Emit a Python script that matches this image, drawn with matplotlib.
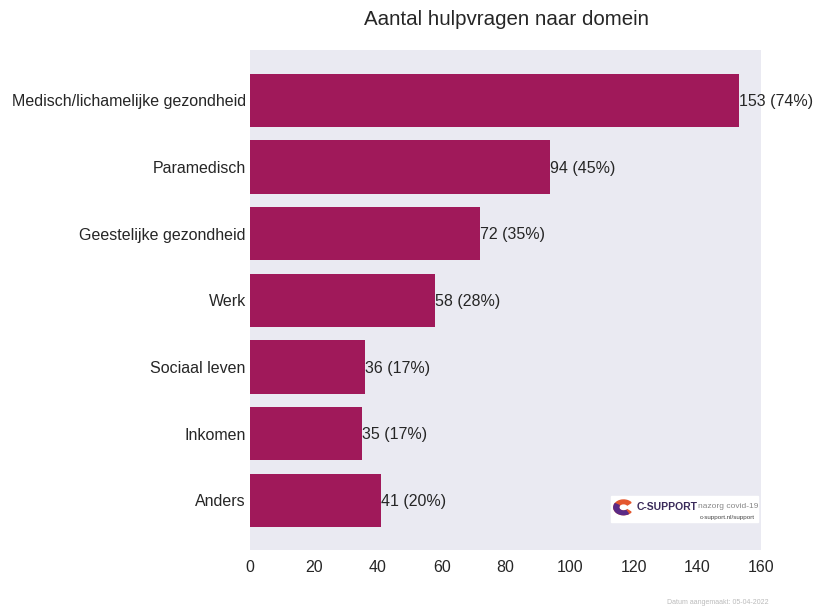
import matplotlib.pyplot as plt
from matplotlib.patches import Wedge, Rectangle

plt.rcParams['font.family'] = ['Liberation Sans', 'DejaVu Sans']

domeinen = ["Medisch/lichamelijke gezondheid", "Paramedisch", "Geestelijke gezondheid",
            "Werk", "Sociaal leven", "Inkomen", "Anders"]
aantallen = [153, 94, 72, 58, 36, 35, 41]
procenten = [74, 45, 35, 28, 17, 17, 20]

bar_kleur = "#A0195A"
tekst_kleur = "#262626"

fig = plt.figure(figsize=(8.13, 6.12), dpi=100)
ax = fig.add_axes([0.3075, 0.101, 0.629, 0.817])
ax.set_facecolor("#EAEAF2")

pos = list(range(len(domeinen)))
ax.barh(pos, aantallen, height=0.8, color=bar_kleur)
for p, n, pc in zip(pos, aantallen, procenten):
    ax.text(n, p + 0.02, "{} ({}%)".format(n, pc), va="center", ha="left", fontsize=11.5, color=tekst_kleur)

ax.set_yticks(pos)
ax.set_yticklabels(domeinen, fontsize=11.5, color=tekst_kleur)
ax.set_ylim(len(domeinen) - 0.25, -0.75)
ax.set_xlim(0, 160)
ax.set_xticks(range(0, 161, 20))
ax.tick_params(axis="x", labelsize=11.5, labelcolor=tekst_kleur, length=0, pad=7)
ax.tick_params(axis="y", length=0, pad=3)
for s in ax.spines.values():
    s.set_visible(False)

fig.text(0.623, 0.968, "Aantal hulpvragen naar domein", ha="center", va="center", fontsize=14.8, color=tekst_kleur)

# logo
lx, ly = 0.752, 0.147
fig.patches.append(Rectangle((lx, ly), 0.18, 0.042, transform=fig.transFigure, color="white", zorder=3))
fig.patches.append(Wedge((lx + 0.015, ly + 0.024), 0.012, 40, 320, width=0.006,
                         transform=fig.transFigure, color="#E4572E", zorder=4))
fig.patches.append(Wedge((lx + 0.015, ly + 0.024), 0.012, 150, 300, width=0.006,
                         transform=fig.transFigure, color="#5B2A86", zorder=5))
fig.text(lx + 0.031, ly + 0.025, "C-SUPPORT", fontsize=7.5, fontweight="bold", color="#3A2A5A",
         va="center", zorder=6)
fig.text(lx + 0.106, ly + 0.025, "nazorg covid-19", fontsize=6, color="#888888", va="center", zorder=6)
fig.text(lx + 0.176, ly + 0.008, "c-support.nl/support", fontsize=4.5, color="#444444", va="center",
         ha="right", zorder=6)

fig.text(0.945, 0.016, "Datum aangemaakt: 05-04-2022", fontsize=5, color="#BBBBBB", ha="right", va="center")

fig.savefig("out.png", dpi=100)
